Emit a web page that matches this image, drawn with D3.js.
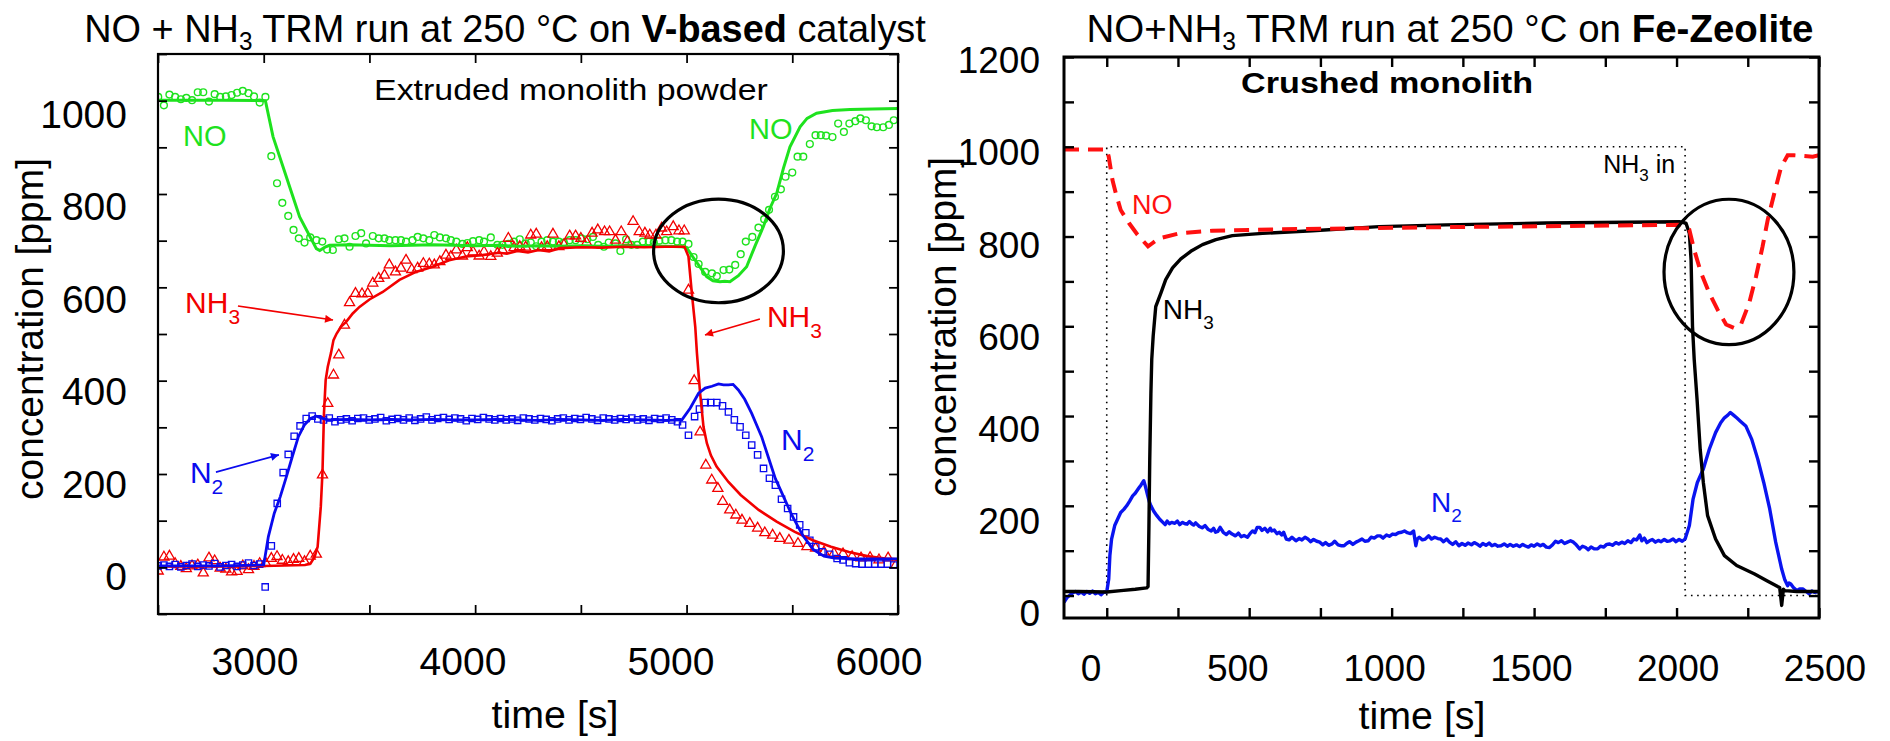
<!DOCTYPE html>
<html><head><meta charset="utf-8">
<script src="https://cdn.jsdelivr.net/npm/d3@7"></script>
<style>
html,body{margin:0;padding:0;background:#fff;}
svg{display:block;font-family:"Liberation Sans",Arial,Helvetica,sans-serif;}
</style></head><body>
<svg id="chart" width="1890" height="741"></svg>
<script>
// ---------------- DATA (left panel: V-based catalyst) ----------------
const leftXTicks = [2500,3000,3500,4000,4500,5000,5500,6000];
const leftYTicks = [-100,0,100,200,300,400,500,600,700,800,900,1000,1100];
const leftXLabels = [3000,4000,5000,6000];
const leftYLabels = [0,200,400,600,800,1000];

// model lines [time s, ppm]
const noLineL = [[2500,1001],[2800,1001],[3008,1000],[3044,923],[3123,815],[3170,751],[3249,683],[3265,679],[3290,686],[3311,690],[3406,691],[3500,690],[3600,689],[3700,690],[3800,691],[3900,690],[4000,689],[4113,690],[4200,688],[4300,689],[4400,688],[4500,689],[4600,688],[4700,689],[4800,688],[4900,688],[4976,687],[5000,685],[5030,665],[5063,644],[5095,623],[5125,614],[5158,612],[5180,613],[5205,612],[5245,625],[5284,644],[5325,690],[5363,730],[5395,770],[5426,801],[5458,855],[5489,901],[5537,944],[5570,962],[5615,973],[5690,979],[5773,981],[5880,982],[6000,983]];
const nh3LineL = [[2500,2],[2800,2],[3000,3],[3100,4],[3195,5],[3221,8],[3241,23],[3255,44],[3270,130],[3278,205],[3285,330],[3293,401],[3303,430],[3318,459],[3330,487],[3345,501],[3366,516],[3390,526],[3421,544],[3453,558],[3500,574],[3563,590],[3642,616],[3720,633],[3799,644],[3877,658],[3956,666],[4034,669],[4113,674],[4150,672],[4200,678],[4250,675],[4300,680],[4350,677],[4400,684],[4500,686],[4600,685],[4700,687],[4800,686],[4900,687],[4990,687],[5009,666],[5025,587],[5041,516],[5049,459],[5064,373],[5080,301],[5096,266],[5115,240],[5142,216],[5198,183],[5256,155],[5341,123],[5426,98],[5512,76],[5597,58],[5683,44],[5768,33],[5854,24],[5939,19],[6000,17]];
const n2LineL = [[2500,3],[2800,3],[3000,5],[3022,66],[3050,116],[3078,151],[3107,194],[3135,237],[3164,280],[3192,305],[3221,319],[3249,324],[3278,319],[3306,316],[3400,317],[3500,316],[3600,317],[3700,316],[3800,317],[3900,316],[4000,316],[4100,317],[4200,316],[4300,315],[4400,317],[4500,316],[4600,315],[4700,317],[4800,316],[4900,315],[4978,316],[5017,341],[5057,373],[5088,384],[5120,388],[5151,393],[5175,391],[5198,391],[5220,392],[5245,380],[5275,360],[5308,330],[5355,280],[5386,237],[5420,190],[5450,160],[5500,110],[5550,68],[5600,38],[5650,24],[5700,20],[5800,18],[6000,18]];

// measured points [time s, ppm]
const noDataL = [[2501,1008],[2528,990],[2554,1013],[2581,1008],[2608,1003],[2634,1006],[2661,1001],[2688,1018],[2714,1018],[2741,998],[2768,1014],[2794,1008],[2821,1009],[2848,1012],[2874,1017],[2901,1021],[2928,1016],[2954,1009],[2981,996],[3008,1008],[3036,881],[3063,823],[3088,781],[3116,753],[3141,723],[3166,705],[3193,696],[3220,707],[3249,701],[3277,698],[3300,681],[3327,680],[3355,703],[3382,705],[3406,687],[3434,710],[3461,716],[3484,694],[3516,710],[3544,705],[3571,705],[3594,701],[3623,701],[3649,701],[3673,698],[3704,701],[3728,708],[3755,705],[3783,701],[3807,712],[3833,707],[3862,705],[3885,701],[3911,698],[3940,693],[3963,695],[3990,699],[4019,701],[4042,698],[4074,707],[4105,691],[4129,691],[4157,693],[4184,698],[4211,703],[4239,694],[4263,696],[4289,688],[4314,698],[4341,701],[4368,698],[4396,698],[4420,696],[4447,701],[4475,701],[4503,705],[4530,703],[4557,708],[4582,691],[4609,687],[4632,696],[4664,694],[4687,678],[4714,703],[4739,691],[4766,691],[4793,698],[4821,698],[4845,696],[4871,700],[4900,701],[4928,701],[4955,698],[4981,698],[5009,693],[5033,665],[5057,650],[5088,633],[5120,630],[5143,624],[5175,637],[5202,638],[5230,648],[5256,671],[5280,698],[5311,708],[5340,728],[5367,746],[5390,766],[5418,794],[5446,810],[5468,837],[5500,846],[5525,880],[5552,880],[5583,907],[5610,926],[5635,926],[5660,925],[5690,922],[5717,951],[5744,933],[5770,951],[5798,956],[5822,962],[5848,958],[5875,945],[5900,943],[5930,943],[5957,948],[5980,958]];
const nh3DataL = [[2501,-8],[2528,22],[2554,24],[2581,8],[2608,2],[2634,-3],[2661,3],[2688,5],[2714,-12],[2741,20],[2768,14],[2794,-2],[2821,-4],[2848,-10],[2874,-9],[2901,3],[2928,-5],[2954,2],[2981,8],[3008,10],[3036,19],[3063,23],[3088,15],[3116,12],[3141,17],[3166,19],[3193,12],[3220,24],[3249,28],[3278,198],[3303,351],[3330,412],[3355,455],[3382,519],[3406,567],[3434,587],[3465,586],[3492,587],[3516,609],[3544,619],[3571,626],[3594,648],[3623,633],[3649,641],[3673,658],[3700,638],[3728,641],[3755,651],[3783,650],[3807,648],[3833,655],[3862,669],[3885,666],[3911,680],[3940,667],[3963,685],[3990,676],[4019,667],[4042,676],[4074,666],[4105,673],[4129,680],[4157,705],[4184,685],[4211,687],[4239,686],[4263,712],[4289,714],[4314,685],[4341,687],[4368,714],[4396,687],[4420,691],[4447,710],[4475,710],[4500,705],[4527,696],[4553,716],[4580,723],[4612,719],[4636,719],[4664,701],[4691,719],[4720,698],[4747,741],[4776,719],[4803,716],[4826,712],[4855,712],[4882,727],[4906,719],[4937,730],[4964,721],[4989,721],[5009,594],[5036,400],[5064,290],[5091,219],[5119,187],[5148,169],[5171,141],[5204,123],[5233,112],[5262,101],[5299,94],[5336,84],[5370,74],[5407,69],[5441,62],[5484,58],[5527,51],[5569,44],[5610,41],[5650,33],[5697,30],[5740,29],[5783,23],[5825,20],[5868,21],[5910,16],[5953,20],[5990,5]];
const n2DataL = [[2501,3],[2528,5],[2554,2],[2581,6],[2608,1],[2634,4],[2661,7],[2688,2],[2714,5],[2741,3],[2768,8],[2794,1],[2821,4],[2848,6],[2874,2],[2901,5],[2928,9],[2954,4],[2981,7],[3007,-42],[3036,46],[3064,137],[3092,203],[3116,242],[3144,281],[3172,303],[3201,319],[3229,324],[3256,318],[3283,316],[3310,320],[3337,312],[3364,316],[3391,318],[3418,314],[3445,319],[3472,320],[3499,316],[3526,318],[3553,321],[3580,314],[3607,317],[3634,319],[3661,316],[3688,320],[3715,315],[3742,318],[3769,322],[3796,316],[3823,319],[3850,321],[3877,317],[3904,320],[3931,318],[3958,314],[3985,319],[4012,317],[4039,321],[4066,318],[4093,316],[4120,319],[4147,316],[4174,318],[4201,315],[4228,320],[4255,318],[4282,316],[4309,319],[4336,317],[4363,314],[4390,318],[4417,320],[4444,316],[4471,319],[4498,317],[4525,321],[4552,318],[4579,315],[4606,320],[4633,318],[4660,316],[4687,319],[4714,317],[4741,320],[4768,316],[4795,318],[4822,315],[4849,319],[4876,317],[4903,320],[4930,316],[4957,312],[4981,305],[5009,283],[5038,323],[5061,339],[5088,353],[5114,353],[5143,353],[5170,346],[5198,333],[5226,316],[5253,301],[5280,283],[5308,262],[5336,241],[5364,212],[5392,191],[5420,176],[5449,146],[5478,126],[5506,108],[5535,91],[5564,74],[5583,58],[5611,44],[5640,33],[5677,28],[5712,19],[5740,16],[5770,10],[5800,8],[5830,7],[5860,7],[5890,7],[5920,7],[5950,7],[5980,5]];

// ---------------- DATA (right panel: Fe-Zeolite) ----------------
const rightXTicks = [0,250,500,750,1000,1250,1500,1750,2000,2250,2500];
const rightYTicks = [0,100,200,300,400,500,600,700,800,900,1000,1100,1200];
const rightXLabels = [0,500,1000,1500,2000,2500];
const rightYLabels = [0,200,400,600,800,1000,1200];

const nh3InR = [[0,0],[0,1000],[2030,1000],[2030,0],[2500,0]];
const nh3LineR = [[-150,9],[-100,9],[0,8],[50,11],[100,14],[140,17],[145,20],[148,150],[151,304],[155,450],[158,526],[163,578],[172,644],[190,674],[207,704],[231,730],[260,750],[295,767],[336,782],[383,793],[441,802],[547,807],[722,813],[956,822],[1190,826],[1541,830],[2010,833],[2033,830],[2045,807],[2051,748],[2056,600],[2062,526],[2072,437],[2083,326],[2094,252],[2109,178],[2137,126],[2168,89],[2211,67],[2274,48],[2317,33],[2355,20],[2362,18],[2369,-22],[2375,14],[2380,11],[2422,9],[2500,9]];
const noLineR = [[-150,994],[0,994],[7,978],[20,926],[32,896],[49,859],[78,830],[108,804],[145,778],[160,785],[184,796],[254,807],[371,813],[605,816],[839,818],[1190,821],[1541,823],[2010,826],[2045,815],[2062,770],[2086,719],[2115,674],[2144,637],[2174,604],[2203,596],[2226,604],[2255,652],[2279,711],[2302,778],[2320,837],[2343,896],[2367,955],[2390,981],[2413,981],[2478,978],[2500,981]];
const n2LineR = [[-150,-15],[-140,-5],[-131,0],[-120,6],[-110,9],[-100,4],[-90,8],[-80,3],[-70,9],[-60,5],[-50,10],[-40,4],[-30,7],[-20,2],[-10,8],[0,8],[7,37],[11,89],[17,126],[28,156],[38,170],[49,185],[60,192],[70,200],[80,210],[91,222],[100,228],[112,239],[120,246],[126,252],[130,256],[135,245],[144,222],[150,208],[155,200],[165,188],[176,178],[186,170],[197,163],[205,158],[212,166],[220,160],[228,163],[239,161],[248,166],[256,158],[265,163],[275,160],[282,159],[290,165],[298,160],[305,157],[312,162],[325,154],[335,151],[345,156],[355,148],[367,144],[375,150],[382,141],[390,143],[398,152],[409,141],[420,136],[430,142],[440,137],[452,133],[462,139],[472,131],[482,134],[494,130],[503,138],[512,144],[520,140],[528,152],[537,152],[545,145],[555,150],[565,142],[574,150],[579,144],[588,146],[597,138],[606,141],[614,135],[621,141],[630,126],[640,124],[650,130],[664,122],[675,127],[685,124],[696,130],[706,126],[716,120],[726,125],[737,121],[748,119],[758,113],[768,118],[779,112],[791,115],[800,121],[812,113],[822,111],[833,111],[842,116],[852,120],[864,114],[875,119],[885,122],[896,126],[906,121],[918,122],[928,130],[939,128],[950,133],[960,133],[970,128],[982,135],[992,132],[1003,137],[1014,136],[1024,140],[1035,141],[1045,144],[1055,140],[1066,138],[1077,144],[1085,111],[1090,126],[1097,130],[1108,124],[1118,126],[1130,133],[1140,126],[1151,130],[1162,127],[1172,126],[1182,120],[1193,126],[1203,119],[1214,114],[1225,120],[1236,111],[1247,116],[1258,112],[1268,117],[1280,113],[1290,118],[1299,115],[1310,110],[1320,116],[1331,112],[1342,117],[1352,111],[1363,114],[1373,110],[1384,111],[1395,115],[1406,110],[1416,114],[1427,110],[1438,113],[1449,109],[1460,114],[1468,111],[1480,108],[1490,113],[1500,110],[1511,115],[1522,111],[1532,114],[1543,108],[1554,107],[1563,112],[1575,121],[1585,118],[1596,122],[1607,116],[1617,119],[1628,122],[1638,119],[1648,113],[1660,104],[1670,110],[1681,107],[1690,102],[1700,108],[1712,104],[1723,104],[1733,110],[1744,108],[1755,114],[1765,115],[1775,112],[1787,118],[1797,115],[1808,119],[1818,116],[1829,122],[1840,118],[1850,126],[1860,124],[1871,135],[1878,122],[1887,128],[1896,118],[1905,122],[1915,125],[1926,119],[1936,123],[1946,120],[1957,125],[1967,121],[1977,122],[1988,126],[1998,120],[2009,125],[2020,121],[2030,126],[2045,156],[2058,215],[2073,252],[2094,282],[2115,326],[2137,363],[2155,385],[2168,396],[2180,402],[2189,408],[2200,402],[2211,396],[2225,388],[2243,378],[2264,348],[2285,304],[2306,252],[2327,193],[2348,119],[2369,59],[2380,35],[2390,22],[2395,28],[2401,26],[2410,18],[2422,11],[2432,15],[2443,15],[2455,9],[2465,4],[2475,10],[2485,7],[2500,9]];

// annotations in data units: [centre time, centre ppm, half-width s, half-height ppm]
const ellipseL = [5151, 678, 307, 111];
const ellipseR = [2184, 721, 228, 162];
// arrows [from time, from ppm, to time, to ppm]
const arrowNH3a = [2878, 560, 3328, 530];
const arrowNH3b = [5347, 532, 5087, 498];
const arrowN2 = [2774, 204, 3072, 241];

// ---------------- DRAWING ----------------
const svg = d3.select('#chart');
const GREEN = '#1ee21e', RED = '#f20000', BLUE = '#0a0aee', RRED = '#ff1010', RBLUE = '#0a14f0';

const xL = d3.scaleLinear().domain([2500,6000]).range([158,898]);
const yL = d3.scaleLinear().domain([-100,1100]).range([614,54]);
const xLlab = d3.scaleLinear().domain([3000,6000]).range([255,879]);
const yLlab = d3.scaleLinear().domain([0,1000]).range([576,114]);

const xR = d3.scaleLinear().domain([-150,2500]).range([1064,1819]);
const yR = d3.scaleLinear().domain([-50,1200]).range([618,57]);
const xRlab = d3.scaleLinear().domain([0,2500]).range([1091,1825]);
const yRlab = d3.scaleLinear().domain([0,1200]).range([613,60]);

const defs = svg.append('defs');
[['aRed',RED],['aBlue',BLUE]].forEach(([id,c])=>{
  defs.append('marker').attr('id',id).attr('viewBox','0 0 10 10').attr('refX',10).attr('refY',5)
    .attr('markerUnits','userSpaceOnUse').attr('markerWidth',12).attr('markerHeight',8).attr('orient','auto')
    .append('path').attr('d','M0,0 L10,5 L0,10 z').attr('fill',c);
});
function clip(id, x, y){
  defs.append('clipPath').attr('id',id).append('rect')
    .attr('x',x.range()[0]).attr('y',y.range()[1])
    .attr('width',x.range()[1]-x.range()[0]).attr('height',y.range()[0]-y.range()[1]);
}
clip('cL',xL,yL); clip('cR',xR,yR);

function richText(parent, parts, size, subSize, subShift){
  const t = parent.append('text').attr('font-size', size);
  let shifted = false;
  parts.forEach(p=>{
    const ts = t.append('tspan').text(p[0]);
    let dy = 0;
    if (p[1]==='sub'){ ts.attr('font-size', subSize); dy = subShift; shifted = true; }
    else if (shifted){ dy = -subShift; shifted = false; }
    if (dy) ts.attr('dy', dy);
    if (p[1]==='b') ts.attr('font-weight','bold');
  });
  return t;
}
function place(t, x, y, w, anchor){
  t.attr('text-anchor', anchor || 'middle');
  let k = 1;
  if (w){ const L = t.node().getComputedTextLength(); k = w / L; }
  t.attr('transform', `translate(${x},${y}) scale(${k},1)`);
  return t;
}

function frame(g, x, y, xt, yt, tick, sw){
  const x0=x.range()[0], x1=x.range()[1], y0=y.range()[1], y1=y.range()[0];
  const ax = [
    [d3.axisBottom(x).tickValues(xt), `translate(0,${y1})`],
    [d3.axisTop(x).tickValues(xt), `translate(0,${y0})`],
    [d3.axisLeft(y).tickValues(yt), `translate(${x0},0)`],
    [d3.axisRight(y).tickValues(yt), `translate(${x1},0)`]
  ];
  ax.forEach(([a,tr])=>{
    const s = g.append('g').attr('transform',tr).call(a.tickSize(-tick).tickFormat(''));
    s.select('.domain').remove();
    s.selectAll('line').attr('stroke','#000').attr('stroke-width',sw*0.8);
  });
  g.append('rect').attr('x',x0).attr('y',y0).attr('width',x1-x0).attr('height',y1-y0)
    .attr('fill','none').attr('stroke','#000').attr('stroke-width',sw);
}

// ===== LEFT PANEL =====
const gL = svg.append('g');
const plotL = gL.append('g').attr('clip-path','url(#cL)');
const lineL = d3.line().x(d=>xL(d[0])).y(d=>yL(d[1]));

plotL.selectAll('circle.no').data(noDataL).join('circle')
  .attr('cx',d=>xL(d[0])).attr('cy',d=>yL(d[1])).attr('r',3.4)
  .attr('fill','none').attr('stroke',GREEN).attr('stroke-width',1.4);
const tri = d3.symbol().type(d3.symbolTriangle).size(44);
plotL.selectAll('path.nh3').data(nh3DataL).join('path')
  .attr('d',tri).attr('transform',d=>`translate(${xL(d[0])},${yL(d[1])})`)
  .attr('fill','none').attr('stroke',RED).attr('stroke-width',1.3);
const sq = d3.symbol().type(d3.symbolSquare).size(40);
plotL.selectAll('path.n2').data(n2DataL).join('path')
  .attr('d',sq).attr('transform',d=>`translate(${xL(d[0])},${yL(d[1])})`)
  .attr('fill','none').attr('stroke',BLUE).attr('stroke-width',1.3);

plotL.append('path').datum(noLineL).attr('d',lineL).attr('fill','none').attr('stroke',GREEN).attr('stroke-width',3);
plotL.append('path').datum(nh3LineL).attr('d',lineL).attr('fill','none').attr('stroke',RED).attr('stroke-width',2.6);
plotL.append('path').datum(n2LineL).attr('d',lineL).attr('fill','none').attr('stroke',BLUE).attr('stroke-width',2.8);

plotL.append('ellipse').attr('cx',xL(ellipseL[0])).attr('cy',yL(ellipseL[1]))
  .attr('rx',xL(ellipseL[0]+ellipseL[2])-xL(ellipseL[0])).attr('ry',yL(ellipseL[1])-yL(ellipseL[1]+ellipseL[3]))
  .attr('fill','none').attr('stroke','#000').attr('stroke-width',3.2);

[[arrowNH3a,'aRed',RED],[arrowNH3b,'aRed',RED],[arrowN2,'aBlue',BLUE]].forEach(([a,m,c])=>{
  gL.append('line').attr('x1',xL(a[0])).attr('y1',yL(a[1])).attr('x2',xL(a[2])).attr('y2',yL(a[3]))
    .attr('stroke',c).attr('stroke-width',1.6).attr('marker-end',`url(#${m})`);
});

frame(gL, xL, yL, leftXTicks, leftYTicks, 9, 2.2);

// tick labels
leftXLabels.forEach(v=>{
  gL.append('text').attr('x',xLlab(v)).attr('y',675).attr('text-anchor','middle').attr('font-size',39).text(v);
});
leftYLabels.forEach(v=>{
  gL.append('text').attr('x',127).attr('y',yLlab(v)).attr('dy','0.36em').attr('text-anchor','end').attr('font-size',39).text(v);
});
place(gL.append('text').attr('font-size',39).text('time [s]'), 555, 728, 127);
gL.append('text').attr('font-size',39).attr('text-anchor','middle')
  .attr('transform','translate(43,329) rotate(-90)').attr('textLength',342).attr('lengthAdjust','spacingAndGlyphs')
  .text('concentration [ppm]');

// title
place(richText(gL, [['NO + NH'],['3','sub'],[' TRM run at 250 °C on '],['V-based','b'],[' catalyst']], 39, 25, 8), 505, 42, 842);
place(gL.append('text').attr('font-size',30).text('Extruded monolith powder'), xL(4453), yL(1001), 394);

// series labels
gL.append('text').attr('x',xL(2618)).attr('y',yL(903)).attr('font-size',29).attr('fill',GREEN).text('NO');
gL.append('text').attr('x',xL(5295)).attr('y',yL(918)).attr('font-size',29).attr('fill',GREEN).text('NO');
place(richText(gL, [['NH'],['3','sub']], 30, 21, 11).attr('fill',RED), xL(2628), yL(545), null, 'start');
place(richText(gL, [['NH'],['3','sub']], 30, 21, 11).attr('fill',RED), xL(5380), yL(515), null, 'start');
place(richText(gL, [['N'],['2','sub']], 30, 21, 11).attr('fill',BLUE), xL(2651), yL(181), null, 'start');
place(richText(gL, [['N'],['2','sub']], 30, 21, 11).attr('fill',BLUE), xL(5447), yL(251), null, 'start');

// ===== RIGHT PANEL =====
const gR = svg.append('g');
const plotR = gR.append('g').attr('clip-path','url(#cR)');
const lineR = d3.line().x(d=>xR(d[0])).y(d=>yR(d[1]));

plotR.append('path').datum(nh3InR).attr('d',lineR).attr('fill','none').attr('stroke','#000')
  .attr('stroke-width',1.6).attr('stroke-dasharray','1.6,4.6');
plotR.append('path').datum(n2LineR).attr('d',lineR).attr('fill','none').attr('stroke',RBLUE).attr('stroke-width',3.4).attr('stroke-linejoin','round');
plotR.append('path').datum(nh3LineR).attr('d',lineR).attr('fill','none').attr('stroke','#000').attr('stroke-width',3.4).attr('stroke-linejoin','round');
plotR.append('path').datum(noLineR).attr('d',lineR).attr('fill','none').attr('stroke',RRED).attr('stroke-width',4)
  .attr('stroke-dasharray','15,9');

plotR.append('ellipse').attr('cx',xR(ellipseR[0])).attr('cy',yR(ellipseR[1]))
  .attr('rx',xR(ellipseR[0]+ellipseR[2])-xR(ellipseR[0])).attr('ry',yR(ellipseR[1])-yR(ellipseR[1]+ellipseR[3]))
  .attr('fill','none').attr('stroke','#000').attr('stroke-width',3.2);

frame(gR, xR, yR, rightXTicks, rightYTicks, 10, 3);

rightXLabels.forEach(v=>{
  gR.append('text').attr('x',xRlab(v)).attr('y',681).attr('text-anchor','middle').attr('font-size',37).text(v);
});
rightYLabels.forEach(v=>{
  gR.append('text').attr('x',1040).attr('y',yRlab(v)).attr('dy','0.36em').attr('text-anchor','end').attr('font-size',37).text(v);
});
place(gR.append('text').attr('font-size',39).text('time [s]'), 1422, 729, 127);
gR.append('text').attr('font-size',39).attr('text-anchor','middle')
  .attr('transform','translate(956,327) rotate(-90)').attr('textLength',340).attr('lengthAdjust','spacingAndGlyphs')
  .text('concentration [ppm]');

place(richText(gR, [['NO+NH'],['3','sub'],[' TRM run at 250 °C on '],['Fe-Zeolite','b']], 39, 25, 8), 1450, 42, 727);
place(gR.append('text').attr('font-size',30).attr('font-weight','bold').text('Crushed monolith'), xR(984), yR(1120), 292);

place(richText(gR, [['NH'],['3','sub'],[' in']], 25, 17, 8), xR(1995), yR(941), null, 'end');
gR.append('text').attr('x',xR(89)).attr('y',yR(850)).attr('font-size',27).attr('fill',RRED).text('NO');
place(richText(gR, [['NH'],['3','sub']], 28, 19, 10).attr('fill','#000'), xR(197), yR(616), null, 'start');
place(richText(gR, [['N'],['2','sub']], 28, 19, 10).attr('fill',RBLUE), xR(1138), yR(186), null, 'start');
</script>
</body></html>
